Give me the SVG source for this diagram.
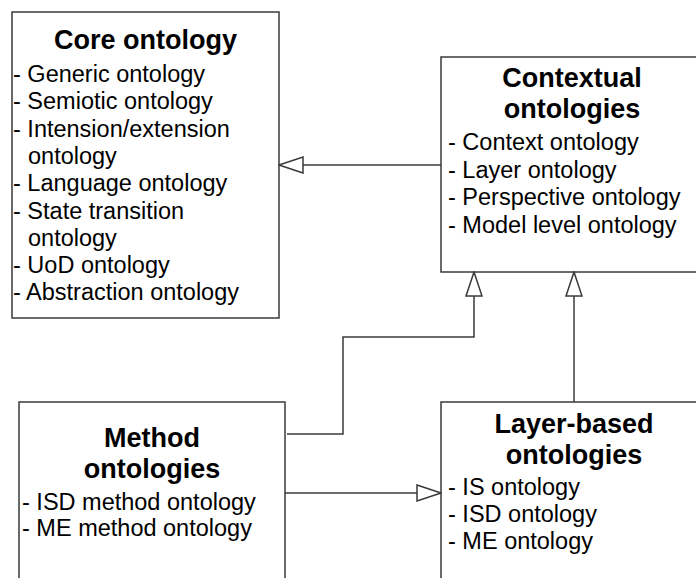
<svg xmlns="http://www.w3.org/2000/svg" width="696" height="578" viewBox="0 0 696 578">
  <style>
    .box { fill: #ffffff; stroke: #3a3a3a; stroke-width: 1.5; }
    .title { font-family: "Liberation Sans", Arial, sans-serif; font-weight: bold; font-size: 27px; fill: #000; text-anchor: middle; }
    .item { font-family: "Liberation Sans", Arial, sans-serif; font-size: 23.5px; fill: #000; }
    .conn { fill: none; stroke: #3a3a3a; stroke-width: 1.5; }
  </style>
  <defs>
    <marker id="hollow" viewBox="-1 -9 26 18" refX="24" refY="0" markerWidth="26" markerHeight="18" markerUnits="userSpaceOnUse" orient="auto">
      <path d="M0,-8 L24,0 L0,8 Z" fill="#ffffff" stroke="#3a3a3a" stroke-width="1.5"/>
    </marker>
  </defs>
  <rect width="696" height="578" fill="#ffffff"/>

  <g id="core-ontology">
    <rect class="box" x="12" y="12" width="267" height="306"/>
    <text class="title" x="145.5" y="49">Core ontology</text>
    <text class="item" x="13" y="82">- Generic ontology</text>
    <text class="item" x="13" y="109.3">- Semiotic ontology</text>
    <text class="item" x="13" y="136.6">- Intension/extension</text>
    <text class="item" x="28" y="163.9">ontology</text>
    <text class="item" x="13" y="191.2">- Language ontology</text>
    <text class="item" x="13" y="218.5">- State transition</text>
    <text class="item" x="28" y="245.8">ontology</text>
    <text class="item" x="13" y="273.1">- UoD ontology</text>
    <text class="item" x="13" y="300.4">- Abstraction ontology</text>
  </g>

  <g id="contextual-ontologies">
    <rect class="box" x="441" y="57" width="262" height="215"/>
    <text class="title" x="572" y="87">Contextual</text>
    <text class="title" x="572" y="118">ontologies</text>
    <text class="item" x="448" y="150">- Context ontology</text>
    <text class="item" x="448" y="177.5">- Layer ontology</text>
    <text class="item" x="448" y="205">- Perspective ontology</text>
    <text class="item" x="448" y="232.5">- Model level ontology</text>
  </g>

  <g id="method-ontologies">
    <rect class="box" x="19" y="402" width="266" height="190"/>
    <text class="title" x="152" y="447">Method</text>
    <text class="title" x="152" y="478">ontologies</text>
    <text class="item" x="22" y="510">- ISD method ontology</text>
    <text class="item" x="22" y="536">- ME method ontology</text>
  </g>

  <g id="layer-based-ontologies">
    <rect class="box" x="441" y="402" width="266" height="190"/>
    <text class="title" x="574" y="433">Layer-based</text>
    <text class="title" x="574" y="464">ontologies</text>
    <text class="item" x="448" y="495">- IS ontology</text>
    <text class="item" x="448" y="522">- ISD ontology</text>
    <text class="item" x="448" y="549">- ME ontology</text>
  </g>

  <g id="connectors">
    <path class="conn" d="M441,165 L279,165" marker-end="url(#hollow)"/>
    <path class="conn" d="M287,434 L343,434 L343,337 L474,337 L474,272" marker-end="url(#hollow)"/>
    <path class="conn" d="M574,402 L574,272" marker-end="url(#hollow)"/>
    <path class="conn" d="M285,493 L441,493" marker-end="url(#hollow)"/>
  </g>
</svg>
